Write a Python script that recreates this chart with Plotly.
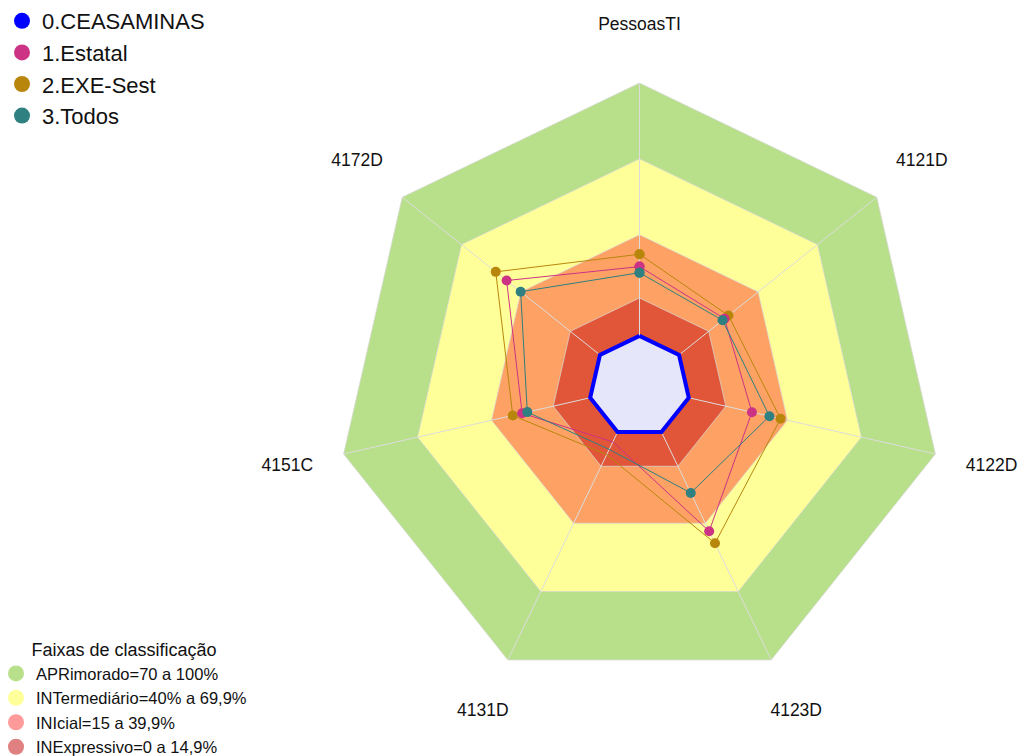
import plotly.graph_objects as go

categories = ["PessoasTI", "4121D", "4122D", "4123D", "4131D", "4151C", "4172D"]

series_names = ["0.CEASAMINAS", "1.Estatal", "2.EXE-Sest", "3.Todos"]
ceasaminas = [0, 0, 0, 0, 0, 0, 0]
estatal = [27.4, 23.0, 25.6, 43.5, 4.3, 27.6, 47.2]
exe_sest = [32.3, 25.0, 37.2, 48.8, 9.9, 31.4, 52.7]
todos = [25.0, 22.0, 32.7, 26.7, 7.6, 25.5, 40.1]

band_names = ["APRimorado=70 a 100%", "INTermediário=40% a 69,9%",
              "INIcial=15 a 39,9%", "INExpressivo=0 a 14,9%"]
band_limits = [100, 70, 40, 15]
band_fill = ["#b8e08a", "#ffff99", "#fda264", "#e15638"]
band_legend_colors = ["#b8e08a", "#ffff99", "#ff9a9a", "#e08080"]

series_colors = ["#0000ff", "#cc3385", "#b8860b", "#2f8080"]

r_min = -20
r_max = 125
label_r = 122.8

FONT = "Liberation Sans, Arial, sans-serif"

fig = go.Figure()

def closed(vals):
    return list(vals) + [vals[0]]

cats_closed = closed(categories)

# bands
for lim, col in zip(band_limits, band_fill):
    fig.add_trace(go.Scatterpolar(
        r=[lim] * len(cats_closed), theta=cats_closed, mode="lines",
        fill="toself", fillcolor=col,
        line=dict(color="rgba(215,215,215,0.9)", width=0.8),
        showlegend=False, hoverinfo="skip"))

# spokes
sr, st = [], []
for c in categories:
    sr += [r_min, band_limits[0], None]
    st += [c, c, None]
fig.add_trace(go.Scatterpolar(
    r=sr, theta=st, mode="lines",
    line=dict(color="rgba(220,220,220,1)", width=1),
    showlegend=False, hoverinfo="skip", connectgaps=False))

# series (drawn order)
data = [ceasaminas, estatal, exe_sest, todos]
for idx in [2, 1, 3]:
    fig.add_trace(go.Scatterpolar(
        r=closed(data[idx]), theta=cats_closed, mode="lines+markers",
        line=dict(color=series_colors[idx], width=1),
        marker=dict(color=series_colors[idx], size=10),
        name=series_names[idx], showlegend=False))

fig.add_trace(go.Scatterpolar(
    r=closed(ceasaminas), theta=cats_closed, mode="lines+markers",
    fill="toself", fillcolor="#e6e6fa",
    line=dict(color=series_colors[0], width=4),
    marker=dict(color=series_colors[0], size=11),
    name=series_names[0], showlegend=False))

# category labels
fig.add_trace(go.Scatterpolar(
    r=[label_r] * len(categories), theta=categories, mode="text",
    text=categories, textposition="middle center",
    textfont=dict(family=FONT, size=17.5, color="#111111"),
    showlegend=False, hoverinfo="skip", cliponaxis=False))

# legend entries
for name, col in zip(series_names, series_colors):
    fig.add_trace(go.Scatterpolar(
        r=[None], theta=[None], mode="markers", name=name,
        marker=dict(color=col, size=16), legend="legend"))

for name, col in zip(band_names, band_legend_colors):
    fig.add_trace(go.Scatterpolar(
        r=[None], theta=[None], mode="markers", name=name,
        marker=dict(color=col, size=16), legend="legend2"))

# page body adds an 8px offset; positions below are in figure coordinates
W = 1018
H = 756
cx, cy = 631.5, 378.5
rad = 303.5 * (r_max - r_min) / (band_limits[0] - r_min)
fig.update_layout(
    width=W, height=H,
    margin=dict(l=0, r=0, t=0, b=0, autoexpand=False),
    paper_bgcolor="white", plot_bgcolor="white",
    font=dict(family=FONT, color="#111111"),
    polar=dict(
        domain=dict(x=[(cx - rad) / W, (cx + rad) / W],
                    y=[(H - cy - rad) / H, (H - cy + rad) / H]),
        bgcolor="white",
        gridshape="linear",
        radialaxis=dict(range=[r_min, r_max], visible=False),
        angularaxis=dict(direction="clockwise", rotation=90,
                         categoryorder="array", categoryarray=categories,
                         showgrid=False, showline=False,
                         showticklabels=False, ticks=""),
    ),
    legend=dict(x=-6 / W, y=1 + 8 / H, xanchor="left", yanchor="top",
                font=dict(family=FONT, size=22, color="#111111"),
                bgcolor="rgba(0,0,0,0)", itemsizing="trace",
                tracegroupgap=0),
    legend2=dict(x=-12 / W, y=-0.001, xanchor="left", yanchor="bottom",
                 font=dict(family=FONT, size=16.5, color="#111111"),
                 title=dict(text="Faixas de classificação", side="top center",
                            font=dict(family=FONT, size=18, color="#111111")),
                 bgcolor="rgba(0,0,0,0)", itemsizing="trace"),
)

fig.write_html("out.html")
